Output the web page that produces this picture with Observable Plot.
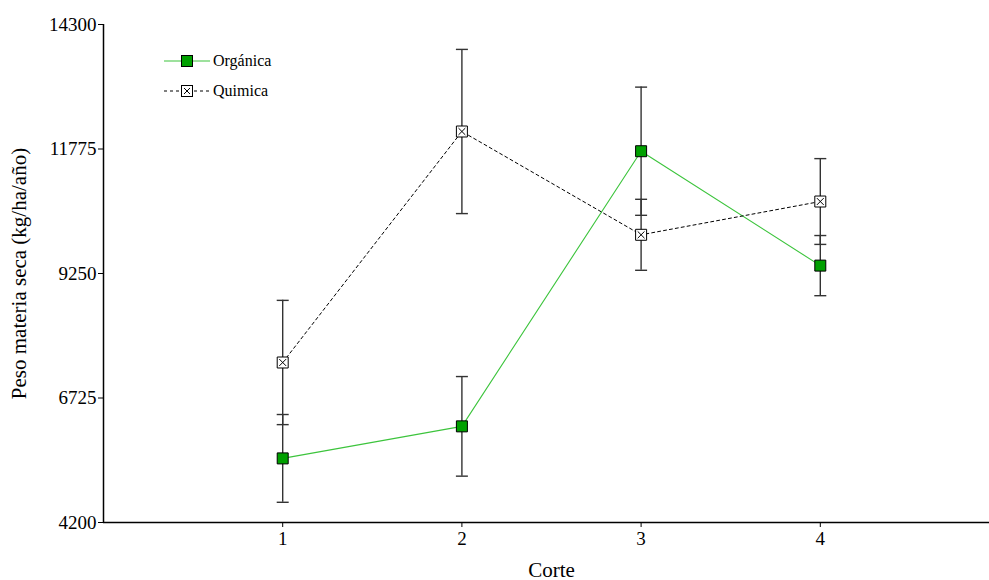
<!DOCTYPE html>
<html>
<head>
<meta charset="utf-8">
<script src="https://cdn.jsdelivr.net/npm/d3@7"></script>
<script src="https://cdn.jsdelivr.net/npm/@observablehq/plot@0.6"></script>
<style>
  body { margin: 0; background: white; }
  #wrap { position: relative; width: 989px; height: 580px; overflow: hidden; font-family: "Liberation Serif", "Times New Roman", serif; }
  #legend { position: absolute; left: 163px; top: 46px; font-size: 16px; color: black; }
  #legend .item { display: flex; align-items: center; height: 30px; }
  #legend svg { margin-right: 2px; }
</style>
</head>
<body>
<div id="wrap">
  <div id="chart"></div>
  <div id="legend"></div>
</div>
<script>
const corte = [1, 2, 3, 4];
const organica = [5500, 6150, 11730, 9410];
const organicaErr = [890, 1010, 1300, 610];
const quimica = [7445, 12130, 10035, 10710];
const quimicaErr = [1260, 1665, 720, 870];
const yTicks = [4200, 6725, 9250, 11775, 14300];
const xTicks = [1, 2, 3, 4];
const xDomain = [0, 5];
const yDomain = [4200, 14300];
const seriesNames = ["Orgánica", "Quimica"];
const yLabel = "Peso materia seca (kg/ha/año)";
const xLabel = "Corte";

const org = corte.map((c, i) => ({x: c, y: organica[i], e: organicaErr[i]}));
const qui = corte.map((c, i) => ({x: c, y: quimica[i], e: quimicaErr[i]}));
const rows = org.concat(qui);

const capSymbol = {
  draw(ctx, size) {
    const r = Math.sqrt(size / Math.PI);
    ctx.moveTo(-r, 0);
    ctx.lineTo(r, 0);
  }
};

const green = "#00a000";
const greenLine = "#3cc43c";
const errColor = "#333";

const chart = Plot.plot({
  width: 989,
  height: 580,
  marginLeft: 103,
  marginRight: -10,
  marginTop: 24,
  marginBottom: 58,
  style: {fontFamily: "'Liberation Serif', 'Times New Roman', serif", fontSize: "19px", color: "black", background: "white"},
  x: {domain: xDomain},
  y: {domain: yDomain},
  marks: [
    Plot.ruleX([xDomain[0]], {stroke: "black", strokeWidth: 1.5}),
    Plot.ruleY([yDomain[0]], {stroke: "black", strokeWidth: 1.5}),
    Plot.axisY({ticks: yTicks, tickSize: 5, tickPadding: 2, tickFormat: d3.format("d"), label: null, fontSize: 19}),
    Plot.axisY({ticks: [], label: yLabel, labelAnchor: "center", labelArrow: false, labelOffset: 92, fontSize: 21}),
    Plot.axisX({ticks: xTicks, tickSize: 5, tickPadding: 4, tickFormat: d3.format("d"), label: null, fontSize: 19}),
    Plot.axisX({ticks: [], label: xLabel, labelAnchor: "center", labelArrow: false, labelOffset: 54, fontSize: 21}),
    Plot.line(org, {x: "x", y: "y", stroke: greenLine, strokeWidth: 1.1}),
    Plot.line(qui, {x: "x", y: "y", stroke: "black", strokeWidth: 1, strokeDasharray: "3,3"}),
    Plot.ruleX(rows, {x: "x", y1: d => d.y - d.e, y2: d => d.y + d.e, stroke: errColor, strokeWidth: 1.4}),
    Plot.dot(rows, {x: "x", y: d => d.y - d.e, symbol: capSymbol, r: 6, stroke: errColor, strokeWidth: 1.4}),
    Plot.dot(rows, {x: "x", y: d => d.y + d.e, symbol: capSymbol, r: 6, stroke: errColor, strokeWidth: 1.4}),
    Plot.dot(org, {x: "x", y: "y", symbol: "square", r: 6.2, fill: green, stroke: "black", strokeWidth: 1}),
    Plot.dot(qui, {x: "x", y: "y", symbol: "square", r: 6.2, fill: "white", stroke: "black", strokeWidth: 1}),
    Plot.dot(qui, {x: "x", y: "y", symbol: "times", r: 3.2, stroke: "black", strokeWidth: 1})
  ]
});
document.getElementById("chart").appendChild(chart);

// Legend
const legend = document.getElementById("legend");
const legendSpecs = [
  {name: seriesNames[0], line: greenLine, dash: null, fill: green, cross: false},
  {name: seriesNames[1], line: "black", dash: "3,3", fill: "white", cross: true}
];
for (const s of legendSpecs) {
  const item = document.createElement("div");
  item.className = "item";
  const ns = "http://www.w3.org/2000/svg";
  const svg = document.createElementNS(ns, "svg");
  svg.setAttribute("width", 48);
  svg.setAttribute("height", 16);
  const ln = document.createElementNS(ns, "line");
  ln.setAttribute("x1", 1); ln.setAttribute("x2", 47);
  ln.setAttribute("y1", 8); ln.setAttribute("y2", 8);
  ln.setAttribute("stroke", s.line);
  ln.setAttribute("stroke-width", 1.1);
  if (s.dash) ln.setAttribute("stroke-dasharray", s.dash);
  svg.appendChild(ln);
  const rect = document.createElementNS(ns, "rect");
  rect.setAttribute("x", 18.5); rect.setAttribute("y", 2.5);
  rect.setAttribute("width", 11); rect.setAttribute("height", 11);
  rect.setAttribute("fill", s.fill); rect.setAttribute("stroke", "black");
  svg.appendChild(rect);
  if (s.cross) {
    const p = document.createElementNS(ns, "path");
    p.setAttribute("d", "M21,5L27,11M27,5L21,11");
    p.setAttribute("stroke", "black");
    svg.appendChild(p);
  }
  item.appendChild(svg);
  const t = document.createElement("span");
  t.textContent = s.name;
  item.appendChild(t);
  legend.appendChild(item);
}
</script>
</body>
</html>
